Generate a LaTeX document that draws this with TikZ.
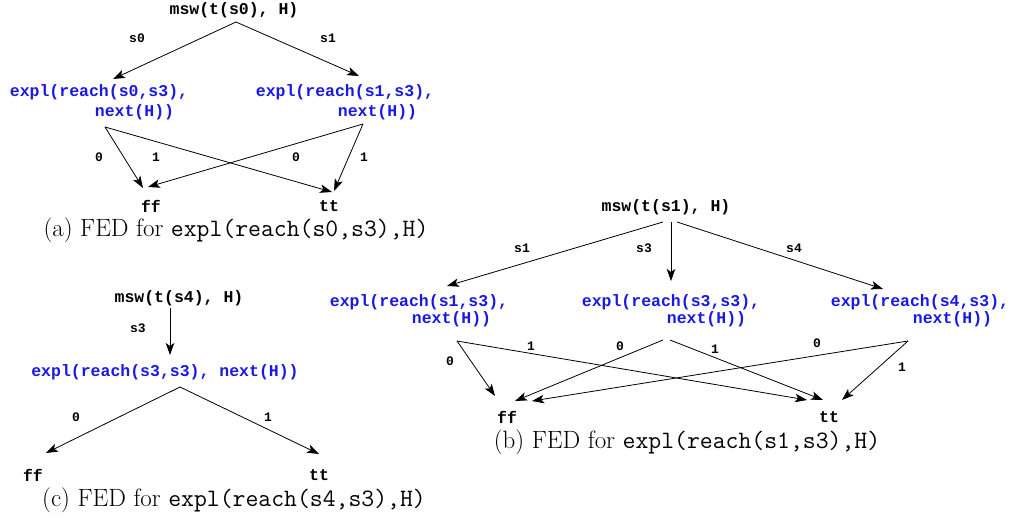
\documentclass[tikz,border=0pt]{standalone}
\usepackage{fontspec}
\usetikzlibrary{arrows.meta}
\newfontfamily\dmono{Liberation Mono}
\definecolor{exblue}{RGB}{25,25,230}
\tikzset{
  x=1pt,y=-1pt,
  txt/.style={inner sep=0pt,font=\dmono\bfseries\fontsize{16.5}{20}\selectfont},
  lbl/.style={inner sep=0pt,font=\dmono\bfseries\fontsize{13}{15}\selectfont},
  expa/.style={txt,text=exblue,align=left,font=\dmono\bfseries\fontsize{16.5}{20}\selectfont},
  expb/.style={txt,text=exblue,align=left,font=\dmono\bfseries\fontsize{16.5}{17}\selectfont},
  captext/.style={inner sep=0pt,font=\fontsize{25}{28}\selectfont},
  arr/.style={-{Stealth[length=12pt,width=8.5pt,inset=3pt]},line width=0.8pt},
}
\begin{document}
\begin{tikzpicture}
\useasboundingbox (0,0) rectangle (1018,521);
% ---------------- (a)
\node[txt] (a-root) at (234,10) {msw(t(s0), H)};
\coordinate (a-r) at (236,22);
\node[expa] (a-e0) at (99,102.5) {expl(reach(s0,s3),\\\hspace*{85pt}next(H))};
\node[expa] (a-e1) at (345,102.5) {expl(reach(s1,s3),\\\hspace*{82pt}next(H))};
\coordinate (a-e0-in) at (113,79);
\coordinate (a-e1-in) at (359,76);
\coordinate (a-e0-out) at (105,127);
\coordinate (a-e1-out) at (363,124);
\node[txt] (a-ff) at (151,206) {ff};
\node[txt] (a-tt) at (329,206) {tt};
\coordinate (a-ff-in1) at (143,188);
\coordinate (a-ff-in2) at (148,187);
\coordinate (a-tt-in1) at (332,192);
\coordinate (a-tt-in2) at (334,191);
\draw[arr] (a-r) -- (a-e0-in);
\draw[arr] (a-r) -- (a-e1-in);
\draw[arr] (a-e0-out) -- (a-ff-in1);
\draw[arr] (a-e0-out) -- (a-tt-in1);
\draw[arr] (a-e1-out) -- (a-ff-in2);
\draw[arr] (a-e1-out) -- (a-tt-in2);
\node[lbl] (a-l1) at (137,38) {s0};
\node[lbl] (a-l2) at (328,38) {s1};
\node[lbl] (a-l3) at (99,157) {0};
\node[lbl] (a-l4) at (156,157) {1};
\node[lbl] (a-l5) at (296,157) {0};
\node[lbl] (a-l6) at (364,157) {1};
\node[captext] (a-cap) at (236,230) {(a) FED for \texttt{expl(reach(s0,s3),H)}};
% ---------------- (c)
\node[txt] (c-root) at (179,298) {msw(t(s4), H)};
\coordinate (c-r) at (170,308);
\coordinate (c-e-in) at (170,355);
\node[txt,text=exblue] (c-e) at (165,372) {expl(reach(s3,s3), next(H))};
\coordinate (c-e-out) at (180,387);
\node[txt] (c-ff) at (33,475) {ff};
\node[txt] (c-tt) at (319,475) {tt};
\coordinate (c-ff-in) at (46,453);
\coordinate (c-tt-in) at (319,454);
\draw[arr] (c-r) -- (c-e-in);
\draw[arr] (c-e-out) -- (c-ff-in);
\draw[arr] (c-e-out) -- (c-tt-in);
\node[lbl] (c-l1) at (138,328) {s3};
\node[lbl] (c-l2) at (76,417) {0};
\node[lbl] (c-l3) at (268,417) {1};
\node[captext] (c-cap) at (234,500) {(c) FED for \texttt{expl(reach(s4,s3),H)}};
% ---------------- (b)
\node[txt] (b-root) at (666,207) {msw(t(s1), H)};
\coordinate (b-r1) at (663,222);
\coordinate (b-r2) at (671,222);
\coordinate (b-r3) at (677,222);
\node[expb] (b-e1) at (419,311) {expl(reach(s1,s3),\\\hspace*{82pt}next(H))};
\node[expb] (b-e3) at (671,311) {expl(reach(s3,s3),\\\hspace*{85pt}next(H))};
\node[expb] (b-e4) at (920,311) {expl(reach(s4,s3),\\\hspace*{82pt}next(H))};
\coordinate (b-e1-in) at (447,286);
\coordinate (b-e3-in) at (671,281);
\coordinate (b-e4-in) at (883,289);
\coordinate (b-e1-out) at (457,341);
\coordinate (b-e3-outl) at (663,340);
\coordinate (b-e3-outr) at (670,340);
\coordinate (b-e4-out) at (908,341);
\node[txt] (b-ff) at (507,417) {ff};
\node[txt] (b-tt) at (829,417) {tt};
\coordinate (b-ff-in1) at (495,396);
\coordinate (b-ff-in2) at (515,401);
\coordinate (b-ff-in3) at (532,401);
\coordinate (b-tt-in1) at (807,400);
\coordinate (b-tt-in2) at (823,400);
\coordinate (b-tt-in3) at (842,400);
\draw[arr] (b-r1) -- (b-e1-in);
\draw[arr] (b-r2) -- (b-e3-in);
\draw[arr] (b-r3) -- (b-e4-in);
\draw[arr] (b-e1-out) -- (b-ff-in1);
\draw[arr] (b-e1-out) -- (b-tt-in1);
\draw[arr] (b-e3-outl) -- (b-ff-in2);
\draw[arr] (b-e3-outr) -- (b-tt-in2);
\draw[arr] (b-e4-out) -- (b-ff-in3);
\draw[arr] (b-e4-out) -- (b-tt-in3);
\node[lbl] (b-l1) at (522,248) {s1};
\node[lbl] (b-l2) at (644,248) {s3};
\node[lbl] (b-l3) at (794,248) {s4};
\node[lbl] (b-l4) at (450,361) {0};
\node[lbl] (b-l5) at (531,346) {1};
\node[lbl] (b-l6) at (620,346) {0};
\node[lbl] (b-l7) at (715,349) {1};
\node[lbl] (b-l8) at (817,343) {0};
\node[lbl] (b-l9) at (902,367) {1};
\node[captext] (b-cap) at (687,442) {(b) FED for \texttt{expl(reach(s1,s3),H)}};
\end{tikzpicture}
\end{document}
